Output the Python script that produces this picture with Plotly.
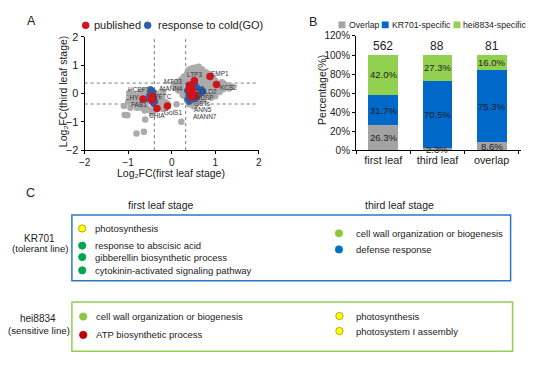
import plotly.graph_objects as go

# ---------------- DATA ----------------
# Panel A: scatter of Log2FC values
gray_x = [0.05, 0.12, 0.15, 0.2, 0.22, 0.25, 0.28, 0.3, 0.32, 0.35, 0.38, 0.4, 0.42, 0.45, 0.48, 0.5,
          0.52, 0.55, 0.58, 0.6, 0.62, 0.65, 0.68, 0.7, 0.72, 0.75, 0.78, 0.8, 0.82, 0.85, 0.88, 0.9,
          0.95, 0.98, 1.0, 1.05, 1.1, 1.12, 1.18, 1.25, 1.32, 1.38, 0.6, 0.65, 0.7, 0.75, 0.8, 0.85,
          0.9, 0.95, 0.72, 0.6, 0.55, 0.5, 0.45, 0.35, 0.4, 0.3, 0.3, 0.62, 0.68, 0.55, 0.5, 1.0,
          0.92, 0.85, 0.18, 0.1, 0.25, 1.2, 1.3, 0.62, 0.58,
          0.75, 0.82, 0.95, 1.05, 1.15, 0.7, 0.78, 0.88, 0.98, 1.08, 0.45, 0.35, 0.28, 0.15,
          -0.2, -0.25, -0.3, -0.28, -0.35, -0.32, -0.5, -0.55, -0.6, -0.65, -0.7, -0.75, -0.8, -0.85,
          -0.9, -0.95, -1.0, -0.6, -0.55, -0.5, -0.45, -0.4, -0.7, -0.62, -1.08, -1.02, -0.81, -0.64,
          -0.61, 0.22, -0.15, -0.2, -0.1, -1.1, -0.94, -0.98, -0.8, -0.15, 0.11, -0.72, -0.88,
          -0.68, -0.58, -0.85, -0.52, -0.25]
gray_y = [0.35, 0.3, 0.42, 0.25, 0.5, 0.38, 0.6, 0.15, 0.45, 0.7, 0.55, 0.85, 0.62, 0.75, 0.9, 0.65,
          0.8, 0.92, 0.7, 0.85, 0.55, 0.78, 0.62, 0.45, 0.7, 0.55, 0.4, 0.6, 0.3, 0.45, 0.2, 0.38,
          0.25, 0.1, 0.45, 0.2, 0.05, 0.3, 0.15, 0.22, 0.18, 0.25, 0.3, 0.15, 0.0, -0.1, 0.1, -0.05,
          -0.15, -0.05, -0.25, -0.3, -0.4, -0.45, -0.35, -0.25, -0.38, -0.1, 0.05, -0.15, 0.3, 0.5, 0.4, -0.1,
          0.55, 0.7, 0.1, 0.2, -0.05, 0.35, 0.28, 0.95, 0.88,
          0.35, 0.5, 0.55, 0.35, 0.4, 0.85, 0.75, 0.65, 0.35, 0.1, 0.55, 0.6, 0.48, 0.12,
          0.05, -0.1, -0.2, -0.35, 0.0, -0.5, 0.15, 0.0, -0.05, -0.25, -0.1, -0.3, -0.15, -0.35,
          -0.2, -0.5, -0.3, -0.4, -0.55, -0.6, -0.7, -0.6, -0.5, -0.6, -0.76, -0.77, -1.41, -1.35,
          -0.92, -1.0, -0.3, -0.55, -0.35, -0.44, -0.15, 0.02, -0.5, -0.5, -0.38, 0.05, -0.05,
          0.08, 0.12, -0.05, 0.1, -0.25]

cold_x = [-0.48, -0.45, -0.42, -0.47, -0.44, -0.4, -0.46, -0.42, -0.5, -0.52, -0.38, -0.55,
          0.38, 0.42, 0.4, 0.38, 0.36, 0.4, 0.55, 0.6, 0.65, 0.68, 0.62, 0.58, 0.52, 0.7, 0.48, 0.45, 0.72, 0.35]
cold_y = [0.15, 0.1, 0.05, 0.0, -0.1, -0.2, -0.3, -0.38, -0.15, -0.05, -0.28, -0.2,
          0.3, 0.2, 0.05, -0.05, -0.2, -0.3, 0.3, 0.2, 0.1, 0.0, -0.05, -0.15, -0.2, 0.15, 0.25, -0.25, 0.05, 0.1]

pub_x = [0.88, 1.03, 0.52, 0.42, 0.45, 0.48, 0.42, 0.5, 0.45, 0.55, 0.4,
         -0.66, -0.43, -0.46, -0.45, -0.34, -0.1]
pub_y = [0.6, 0.32, 0.45, 0.3, 0.22, 0.1, 0.05, -0.05, -0.12, -0.08, 0.15,
         -0.19, -0.15, -0.23, -0.1, -0.53, -0.44]

gene_names = ["EMP1", "KCS2", "LTP3", "MTO3", "AtANN4", "COLD2", "AtUSP", "GSTs", "ANN5", "AtANN7",
              "HCEF1", "LHY", "PETC", "FAB1", "CHIA", "GolS1"]
gene_x = [1.12, 1.31, 0.52, 0.03, -0.01, 0.79, 0.75, 0.71, 0.71, 0.77,
          -0.76, -0.91, -0.19, -0.76, -0.34, 0.03]
gene_y = [0.70, 0.22, 0.68, 0.43, 0.19, 0.08, -0.14, -0.35, -0.57, -0.80,
          0.13, -0.15, -0.10, -0.40, -0.78, -0.67]

fc_x_thresholds = [-0.4, 0.32]
fc_y_thresholds = [0.37, -0.37]

# Panel B: stacked percentages
stages = ["first leaf", "third leaf", "overlap"]
totals = [562, 88, 81]
pct_overlap = [26.3, 2.3, 8.6]
pct_kr701 = [31.7, 70.5, 75.3]
pct_hei8834 = [42.0, 27.3, 16.0]
b_series = ["Overlap", "KR701-specific", "hei8834-specific"]

# Panel C: GO terms
kr_first_terms = ["photosynthesis", "response to abscisic acid", "gibberellin biosynthetic process",
                  "cytokinin-activated signaling pathway"]
kr_first_cols = ["#FFFF00", "#00A650", "#00A650", "#00A650"]
kr_third_terms = ["cell wall organization or biogenesis", "defense response"]
kr_third_cols = ["#8CC63F", "#0070C0"]
hei_first_terms = ["cell wall organization or biogenesis", "ATP biosynthetic process"]
hei_first_cols = ["#8CC63F", "#C00000"]
hei_third_terms = ["photosynthesis", "photosystem I assembly"]
hei_third_cols = ["#FFFF00", "#FFFF00"]

# ---------------- LAYOUT HELPERS ----------------
W, H = 550, 367
FONT = "Liberation Sans, Arial, sans-serif"


def PX(x):
    return x / W


def PY(y):
    return 1 - y / H


shapes = []
annotations = []


def text(x, y, s, size, xanchor="center", yanchor="middle", color="#222", angle=0):
    annotations.append(dict(x=PX(x), y=PY(y), xref="paper", yref="paper", text=s, showarrow=False,
                            xanchor=xanchor, yanchor=yanchor, textangle=angle,
                            font=dict(size=size, color=color, family=FONT)))


def dot(x, y, d, fill, line):
    shapes.append(dict(type="circle", xref="paper", yref="paper",
                       x0=PX(x - d / 2), x1=PX(x + d / 2), y0=PY(y + d / 2), y1=PY(y - d / 2),
                       fillcolor=fill, line=dict(color=line, width=0.8)))


def square(x, y, d, fill):
    shapes.append(dict(type="rect", xref="paper", yref="paper",
                       x0=PX(x - d / 2), x1=PX(x + d / 2), y0=PY(y + d / 2), y1=PY(y - d / 2),
                       fillcolor=fill, line=dict(width=0)))


fig = go.Figure()

# ---------------- PANEL A ----------------
GRAY, BLUE_A, RED_A = "#ABABAB", "#2F5DA8", "#D0121B"
fig.add_trace(go.Scatter(x=gray_x, y=gray_y, mode="markers", xaxis="x", yaxis="y",
                         marker=dict(size=6.5, color=GRAY), showlegend=False, hoverinfo="skip"))
fig.add_trace(go.Scatter(x=cold_x, y=cold_y, mode="markers", xaxis="x", yaxis="y",
                         marker=dict(size=6, color=BLUE_A), name="response to cold(GO)", showlegend=False))
fig.add_trace(go.Scatter(x=pub_x, y=pub_y, mode="markers", xaxis="x", yaxis="y",
                         marker=dict(size=7.5, color=RED_A), name="published", showlegend=False))

for xv in fc_x_thresholds:
    shapes.append(dict(type="line", xref="x", yref="y", x0=xv, x1=xv, y0=-2, y1=2,
                       line=dict(color="#777", width=1, dash="dot"), layer="below"))
for yv in fc_y_thresholds:
    shapes.append(dict(type="line", xref="x", yref="y", x0=-2, x1=2, y0=yv, y1=yv,
                       line=dict(color="#777", width=1, dash="dot"), layer="below"))

for g, gx, gy in zip(gene_names, gene_x, gene_y):
    annotations.append(dict(x=gx, y=gy, xref="x", yref="y", text=g, showarrow=False,
                            font=dict(size=6.5, color="#333", family=FONT)))

text(26, 15, "A", 12.5)
dot(81, 20, 7, RED_A, RED_A)
text(87, 20, "published", 11, xanchor="left")
dot(144, 20, 7, BLUE_A, BLUE_A)
text(152, 20, "response to cold(GO)", 11, xanchor="left")
text(58, 89, "Log₂FC(third leaf stage)", 10.5, angle=-90)
text(168, 172.5, "Log₂FC(first leaf stage)", 10.5)

# ---------------- PANEL B ----------------
B_COLS = ["#A3A3A3", "#0068C9", "#92D050"]
for name, vals, col in zip(b_series, [pct_overlap, pct_kr701, pct_hei8834], B_COLS):
    fig.add_trace(go.Bar(x=stages, y=vals, name=name, marker=dict(color=col, line=dict(width=0)),
                         width=0.55, xaxis="x2", yaxis="y2", showlegend=False))

for i, st in enumerate(stages):
    base = 0
    for vals in [pct_overlap, pct_kr701, pct_hei8834]:
        v = vals[i]
        annotations.append(dict(x=st, y=base + v / 2, xref="x2", yref="y2", text=f"{v:.1f}%",
                                showarrow=False, font=dict(size=9.5, color="#222", family=FONT)))
        base += v
    annotations.append(dict(x=st, y=100, xref="x2", yref="y2", text=str(totals[i]), showarrow=False,
                            yanchor="bottom", yshift=0, font=dict(size=12, color="#222", family=FONT)))

text(312, 17, "B", 12.5)
for (sx, tx), name, col in zip([(341.5, 346.5), (385.5, 390), (458.5, 462.5)], b_series, B_COLS):
    square(sx, 19.5, 7, col)
    text(tx, 19.5, name, 8.7, xanchor="left")
text(321, 87, "Percentage(%)", 10.5, angle=-90)

# ---------------- PANEL C ----------------
text(25, 193, "C", 12.5)
text(158, 206, "first leaf stage", 10.5)
text(400, 206, "third leaf stage", 10.5)

shapes.append(dict(type="rect", xref="paper", yref="paper", x0=PX(67), x1=PX(513), y0=PY(284), y1=PY(216),
                   line=dict(color="#2E78C0", width=1.5)))
shapes.append(dict(type="rect", xref="paper", yref="paper", x0=PX(67), x1=PX(515), y0=PY(357), y1=PY(306),
                   line=dict(color="#92D050", width=1.5)))

text(34, 240, "KR701", 10)
text(35, 251, "(tolerant line)", 9.7)
text(33, 323, "hei8834", 10)
text(33.5, 335, "(sensitive line)", 9.7)


def term_list(terms, cols, cx, tx, ys):
    for t, c, y in zip(terms, cols, ys):
        outline = "#9A9A00" if c == "#FFFF00" else c
        dot(cx, y, 7.5, c, outline)
        text(tx, y, t, 9.5, xanchor="left")


term_list(kr_first_terms, kr_first_cols, 77.5, 88.5, [230, 247.7, 259.5, 273.3])
term_list(kr_third_terms, kr_third_cols, 338.5, 353.5, [235, 251.7])
term_list(hei_first_terms, hei_first_cols, 78.5, 89.5, [321, 340])
term_list(hei_third_terms, hei_third_cols, 339, 353.5, [320.5, 336])

# ---------------- AXES ----------------
axis_common = dict(showline=True, linecolor="#000", linewidth=1.2, ticks="outside", ticklen=3,
                   tickcolor="#000", showgrid=False, zeroline=False)

fig.update_layout(
    width=W, height=H, margin=dict(l=0, r=0, t=0, b=0), autosize=False,
    paper_bgcolor="white", plot_bgcolor="white",
    barmode="stack", bargap=0.45,
    xaxis=dict(domain=[PX(80), PX(257)], range=[-2, 2], dtick=1, anchor="y",
               tickfont=dict(size=10, color="#222", family=FONT), **axis_common),
    yaxis=dict(domain=[PY(149), PY(32)], range=[-2, 2], dtick=1, anchor="x",
               tickfont=dict(size=11, color="#222", family=FONT), **axis_common),
    xaxis2=dict(domain=[PX(356), PX(524)], range=[-0.5, 2.55], anchor="y2", tickson="boundaries",
                tickfont=dict(size=10.8, color="#222", family=FONT), **axis_common),
    yaxis2=dict(domain=[PY(149), PY(31)], range=[0, 120], dtick=20, ticksuffix="%", anchor="x2",
                tickfont=dict(size=10, color="#222", family=FONT), **axis_common),
    shapes=shapes, annotations=annotations,
    font=dict(family=FONT),
)

fig.write_html("out.html", config={"displayModeBar": False},
               post_script="document.body.style.margin='0px';")
